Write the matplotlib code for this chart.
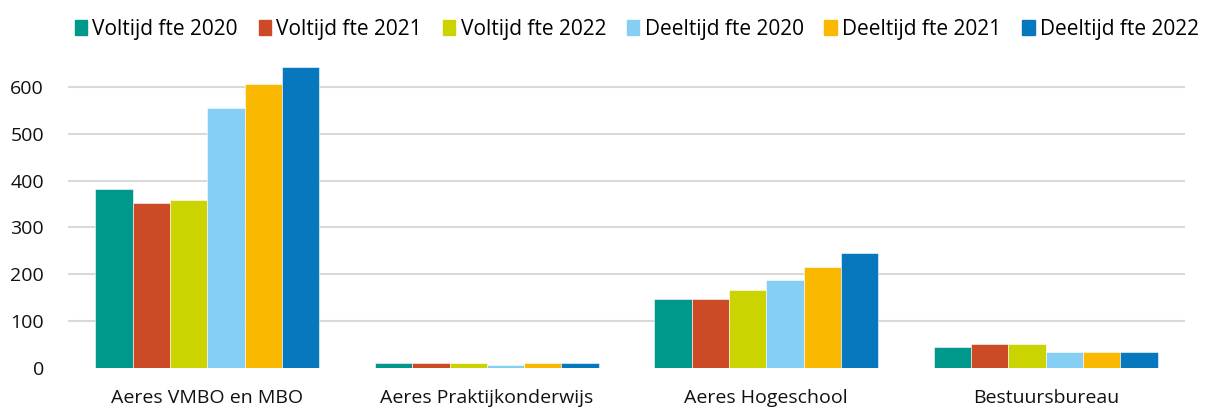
import numpy as np
import matplotlib
matplotlib.use("Agg")
import matplotlib.pyplot as plt
from matplotlib.patches import Patch

plt.rcParams['font.family'] = ['Open Sans', 'DejaVu Sans']

categories = ["Aeres VMBO en MBO", "Aeres Praktijkonderwijs", "Aeres Hogeschool", "Bestuursbureau"]
series = ["Voltijd fte 2020", "Voltijd fte 2021", "Voltijd fte 2022",
          "Deeltijd fte 2020", "Deeltijd fte 2021", "Deeltijd fte 2022"]
values = [
    [381, 11, 147, 45],   # Voltijd 2020
    [352, 11, 147, 51],   # Voltijd 2021
    [358, 11, 166, 51],   # Voltijd 2022
    [556, 6, 188, 34],    # Deeltijd 2020
    [607, 11, 215, 34],   # Deeltijd 2021
    [642, 11, 245, 34],   # Deeltijd 2022
]
colors = ["#00988A", "#CC4A26", "#CBD400", "#85CFF4", "#FAB800", "#0878BE"]

fig = plt.figure(figsize=(12.06, 4.13), dpi=100)
ax = fig.add_axes([0.056, 0.109, 0.927, 0.743])

x = np.arange(len(categories))
w = 0.8 / len(series)
for i, (s, v) in enumerate(zip(series, values)):
    ax.bar(x - 0.4 + w * (i + 0.5), v, w, color=colors[i], label=s,
           edgecolor="white", linewidth=0.4)

ax.set_xlim(-0.5, len(categories) - 0.5)
ax.set_ylim(0, 655)
ax.set_yticks(range(0, 700, 100))
ax.set_xticks(x)
ax.set_xticklabels(categories)
ax.tick_params(axis="both", length=0, colors="#111111")
ax.tick_params(axis="x", pad=15, labelsize=14)
ax.tick_params(axis="y", pad=17, labelsize=14)
for sp in ax.spines.values():
    sp.set_visible(False)
ax.yaxis.grid(True, color="#D9D9D9", linewidth=1.5)
ax.set_axisbelow(True)
ax.get_ygridlines()[0].set_visible(False)   # no line at 0

handles = [Patch(color=c, label=s) for c, s in zip(colors, series)]
fig.legend(handles=handles, loc="upper center", bbox_to_anchor=(0.528, 1.0), ncol=6,
           frameon=False, fontsize=15, handlelength=0.6, handleheight=0.75,
           handletextpad=0.25, columnspacing=1.0)

fig.savefig("out.png", dpi=100)
